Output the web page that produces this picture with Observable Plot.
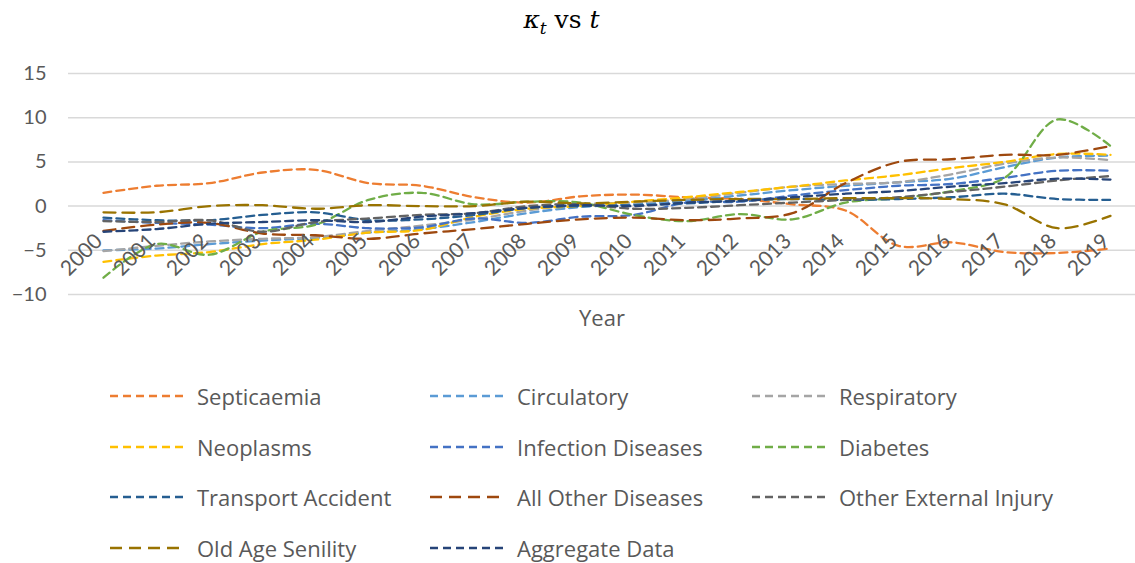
<!DOCTYPE html>
<html><head><meta charset="utf-8">
<script src="https://cdn.jsdelivr.net/npm/d3@7"></script>
<script src="https://cdn.jsdelivr.net/npm/@observablehq/plot@0.6"></script>
<style>
body{margin:0;background:#fff;width:1135px;height:563px;overflow:hidden;position:relative;font-family:"Open Sans",Lato,sans-serif;}
#title{position:absolute;top:0;left:0;width:1123px;height:45px;text-align:center;font-family:"DejaVu Serif",serif;font-size:25px;line-height:40px;color:#000;}
#title sub{font-size:17px;vertical-align:-6px;line-height:0;}
#chart{position:absolute;top:45px;left:0;}
#legend{position:absolute;top:371px;left:110px;display:grid;grid-template-columns:320px 322px 321px;grid-auto-rows:50.5px;}
.item{display:flex;align-items:center;font-size:22px;color:#595959;white-space:nowrap;}
.item svg{margin-right:12px;}
</style></head><body>
<div id="title"><i>κ<sub>t</sub></i> vs <i>t</i></div>
<div id="chart"></div>
<div id="legend"></div>
<script>
const years = ["2000","2001","2002","2003","2004","2005","2006","2007","2008","2009","2010","2011","2012","2013","2014","2015","2016","2017","2018","2019"];
const yTicks = [-10,-5,0,5,10,15];
const seriesNames = ["Septicaemia","Circulatory","Respiratory","Neoplasms","Infection Diseases","Diabetes","Transport Accident","All Other Diseases","Other External Injury","Old Age Senility","Aggregate Data"];
const seriesColors = ["#ED7D31","#5B9BD5","#A5A5A5","#FFC000","#4472C4","#70AD47","#255E91","#9E480E","#636363","#997300","#264478"];
const seriesDash = ["8,5","8,5","8,5","8,5","8,5","8,5","8,5","12,7","8,5","12,7","8,5"];

const septicaemia   = [1.5,2.3,2.6,3.8,4.1,2.6,2.3,1.0,0.4,1.1,1.3,1.0,0.8,0.2,-0.5,-4.5,-4.1,-5.2,-5.3,-4.8];
const circulatory   = [-5.0,-4.8,-4.3,-3.9,-3.6,-3.0,-2.6,-1.8,-0.8,-0.1,0.2,0.6,1.2,1.8,2.3,2.7,3.1,4.4,5.5,5.7];
const respiratory   = [-5.1,-4.5,-4.0,-3.7,-3.5,-2.8,-2.2,-1.5,-0.5,0.2,0.4,0.8,1.5,2.2,2.5,2.7,3.6,4.8,5.5,5.2];
const neoplasms     = [-6.3,-5.6,-5.2,-4.3,-3.8,-3.0,-2.7,-1.2,-0.3,0.0,0.5,1.0,1.6,2.2,2.9,3.5,4.3,5.0,5.9,5.8];
const infection     = [-1.6,-1.9,-2.1,-2.5,-2.0,-2.5,-2.4,-1.4,-1.9,-1.2,-1.0,0.4,0.5,1.2,1.8,2.3,2.5,3.2,4.0,4.0];
const diabetes      = [-8.1,-4.3,-5.5,-2.9,-2.1,0.7,1.5,0.2,0.5,0.4,-1.0,-1.7,-0.9,-1.5,0.4,0.9,1.7,3.2,9.8,6.8];
const transport     = [-1.3,-1.6,-1.6,-1.0,-0.7,-1.6,-1.5,-1.0,-0.2,0.0,0.1,0.3,0.6,0.8,0.7,0.8,1.0,1.4,0.8,0.7];
const allOther      = [-2.8,-2.1,-1.9,-3.1,-3.3,-3.7,-3.1,-2.6,-2.0,-1.5,-1.3,-1.6,-1.4,-0.8,2.6,5.0,5.3,5.8,5.8,6.8];
const otherExternal = [-1.7,-1.8,-1.6,-2.9,-1.8,-1.4,-1.0,-0.8,0.0,0.2,-0.3,-0.2,0.1,0.4,0.7,1.0,1.6,2.2,2.9,3.4];
const oldAge        = [-0.7,-0.7,0.0,0.1,-0.3,0.1,0.0,0.0,0.5,0.3,0.5,0.7,0.8,0.8,0.9,0.9,0.8,0.2,-2.5,-1.1];
const aggregate     = [-2.9,-2.6,-2.0,-1.8,-1.6,-1.8,-1.2,-0.8,-0.2,0.1,0.0,0.4,0.6,1.0,1.4,1.7,2.2,2.6,3.1,3.0];

const seriesValues = [septicaemia,circulatory,respiratory,neoplasms,infection,diabetes,transport,allOther,otherExternal,oldAge,aggregate];

const lineMarks = seriesNames.map((name, i) => {
  const rows = years.map((yr, j) => ({year: yr, value: seriesValues[i][j]}));
  return Plot.line(rows, {x: "year", y: "value", stroke: seriesColors[i], strokeWidth: 2.3, strokeDasharray: seriesDash[i], curve: "catmull-rom"});
});

const chart = Plot.plot({
  width: 1135, height: 300,
  marginLeft: 68, marginRight: 0, marginTop: 28, marginBottom: 105,
  style: {fontFamily: "Lato, 'Open Sans', sans-serif", background: "#fff"},
  x: {type: "point", domain: years, range: [97, 1115], padding: 0, axis: null},
  y: {domain: [-10, 15], range: [249, 28]},
  marks: [
    Plot.gridY(yTicks, {stroke: "#D9D9D9", strokeOpacity: 1, strokeWidth: 1.5}),
    Plot.axisY(yTicks, {tickSize: 0, tickPadding: 22, fontSize: 20, fill: "#595959", label: null}),
    ...lineMarks,
    Plot.text(years, {x: d => d, frameAnchor: "bottom", rotate: -45, textAnchor: "end", lineAnchor: "bottom", dx: 0, dy: 2, fontSize: 21, fill: "#595959"}),
    Plot.text(["Year"], {frameAnchor: "bottom", dy: 78, lineAnchor: "middle", fontSize: 22, fill: "#595959", fontFamily: "'Open Sans', sans-serif"})
  ]
});
document.getElementById("chart").appendChild(chart);

const legend = document.getElementById("legend");
seriesNames.forEach((name, i) => {
  const item = document.createElement("div");
  item.className = "item";
  item.innerHTML = `<svg width="75" height="6"><line x1="0" y1="3" x2="75" y2="3" stroke="${seriesColors[i]}" stroke-width="2.5" stroke-dasharray="${seriesDash[i]}"/></svg><span>${name}</span>`;
  legend.appendChild(item);
});
</script>
</body></html>
